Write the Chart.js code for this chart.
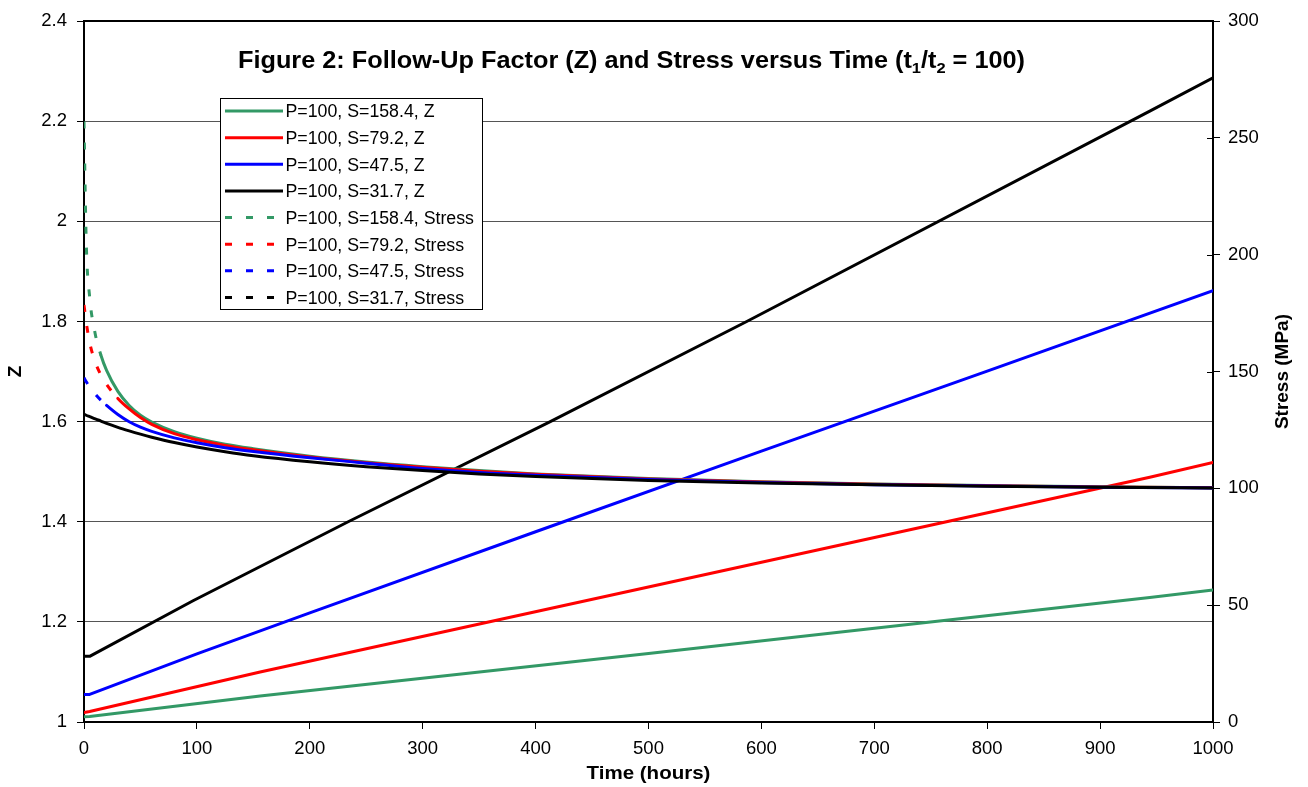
<!DOCTYPE html>
<html><head><meta charset="utf-8">
<script src="https://cdn.jsdelivr.net/npm/chart.js@4.4.1/dist/chart.umd.min.js"></script>
<style>html,body{margin:0;padding:0;background:#fff;overflow:hidden}</style>
</head><body>
<canvas id="c" width="1308" height="787"></canvas>
<script>
// ---- tick labels ----
const timeTicks = [0,100,200,300,400,500,600,700,800,900,1000];
const timeTickLabels = ['0','100','200','300','400','500','600','700','800','900','1000'];
const zTicks = [1,1.2,1.4,1.6,1.8,2,2.2,2.4];
const zTickLabels = ['1','1.2','1.4','1.6','1.8','2','2.2','2.4'];
const stressTicks = [0,50,100,150,200,250,300];
const stressTickLabels = ['0','50','100','150','200','250','300'];

// ---- series labels ----
const seriesLabels = [
  'P=100, S=158.4, Z','P=100, S=79.2, Z','P=100, S=47.5, Z','P=100, S=31.7, Z',
  'P=100, S=158.4, Stress','P=100, S=79.2, Stress','P=100, S=47.5, Stress','P=100, S=31.7, Stress'
];
const seriesColors = ['#339966','#ff0000','#0000ff','#000000','#339966','#ff0000','#0000ff','#000000'];

// ---- Z (left axis) ----
const tZGreen = [0,5,156,500,944,1000];
const zGreen  = [1.0107,1.011,1.052,1.137,1.2487,1.2636];
const tZRed   = [0,5,156,944,1000];
const zRed    = [1.0187,1.021,1.100,1.489,1.5185];
const tZBlue  = [0,5,100,200,400,600,800,1000];
const zBlue   = [1.055,1.055,1.136,1.218,1.380,1.541,1.701,1.8616];
const tZBlack = [0,5,97,234,413,587,944,1000];
const zBlack  = [1.1311,1.1311,1.2426,1.4,1.6,1.8,2.2203,2.2867];

// ---- Stress (right axis, MPa) ----
const tStress = [0,2,5,10,15,20,30,40,50,60,80,100,125,150,200,250,300,350,400,500,600,700,800,900,1000];
const sGreen  = [257,205,182,166,157,150.5,141.5,135.5,131.3,128.4,124.3,121.5,118.9,117,113.8,111.3,109.3,107.6,106.2,104.2,102.8,101.9,101.2,100.7,100.3];
const sRed    = [178.5,171,162.5,154,148.5,144.5,138.5,134,130.3,127.4,123.4,120.8,118.4,116.5,113.4,111,109,107.3,106,104,102.7,101.8,101.1,100.6,100.3];
const sBlue   = [147.3,145.6,143.4,140.3,137.7,135.5,131.6,128.5,126.2,124.4,121.6,119.5,117.4,115.8,113.1,110.8,108.5,106.8,105.6,103.8,102.5,101.6,101.0,100.5,100.2];
const sBlack  = [131.8,131.3,130.7,129.7,128.8,127.8,126.1,124.6,123.2,121.9,119.6,117.7,115.7,114.0,111.4,109.3,107.6,106.2,105.1,103.4,102.3,101.5,100.9,100.5,100.2];
// hours over which each stress curve still shows visible dashes
const dashUntil = [15, 30, 25, 0];

const seriesT = [tZGreen,tZRed,tZBlue,tZBlack,tStress,tStress,tStress,tStress];
const seriesV = [zGreen,zRed,zBlue,zBlack,sGreen,sRed,sBlue,sBlack];

const DASH = [7,14];
const FONT = '"Liberation Sans", Arial, sans-serif';

const datasets = seriesLabels.map((lab,i)=>{
  const isStress = i >= 4;
  const ds = {
    label: lab,
    data: seriesT[i].map((t,k)=>({x:t, y:seriesV[i][k]})),
    yAxisID: isStress ? 'y2' : 'y',
    borderColor: seriesColors[i],
    backgroundColor: seriesColors[i],
    borderWidth: 3,
    pointRadius: 0,
    fill: false,
    order: 8 - i,
    legendDash: isStress ? DASH : [],
    borderCapStyle: 'round',
    borderJoinStyle: 'round'
  };
  if (isStress) {
    const lim = dashUntil[i-4];
    const dashed = c => tStress[c.p1DataIndex] <= lim;
    ds.cubicInterpolationMode = 'monotone';
    ds.segment = {
      borderDash: c => dashed(c) ? DASH : [],
      borderCapStyle: c => dashed(c) ? 'butt' : 'round'
    };
  }
  return ds;
});

function drawStretched(ctx, text, x, y, font, sx, align){
  ctx.save();
  ctx.font = font;
  const w = ctx.measureText(text).width * sx;
  let x0 = x;
  if (align === 'center') x0 = x - w/2;
  else if (align === 'right') x0 = x - w;
  ctx.translate(x0, y);
  ctx.scale(sx, 1);
  ctx.textAlign = 'left';
  ctx.fillText(text, 0, 0);
  ctx.restore();
}

const decor = {
  id: 'decor',
  afterDraw(chart){
    const ctx = chart.ctx, a = chart.chartArea;
    ctx.save();
    ctx.strokeStyle = '#000'; ctx.lineWidth = 2;
    ctx.beginPath(); ctx.moveTo(a.left, a.top); ctx.lineTo(a.right, a.top); ctx.stroke();
    const y2 = chart.scales.y2;
    ctx.lineWidth = 1;
    stressTicks.forEach(v=>{
      const py = Math.round(y2.getPixelForValue(v)) + 0.5;
      ctx.beginPath(); ctx.moveTo(a.right - 6, py); ctx.lineTo(a.right, py); ctx.stroke();
    });
    ctx.restore();

    // ---- legend ----
    ctx.save();
    const lx = 220.5, ly = 98.5, lw = 262, lh = 211;
    ctx.fillStyle = '#fff'; ctx.fillRect(lx, ly, lw, lh);
    ctx.strokeStyle = '#000'; ctx.lineWidth = 1; ctx.strokeRect(lx, ly, lw, lh);
    const lfont = '17.5px ' + FONT;
    ctx.font = lfont;
    const sx = 149 / ctx.measureText(seriesLabels[0]).width;
    chart.data.datasets.forEach((ds,i)=>{
      const cy = 111 + i*26.64;
      ctx.save();
      ctx.strokeStyle = ds.borderColor; ctx.lineWidth = 3;
      ctx.setLineDash(ds.legendDash); ctx.lineCap = 'butt';
      ctx.beginPath(); ctx.moveTo(225, cy); ctx.lineTo(283, cy); ctx.stroke();
      ctx.restore();
      ctx.fillStyle = '#000';
      drawStretched(ctx, ds.label, 285.5, cy + 6.3, lfont, sx, 'left');
    });
    ctx.restore();

    // ---- title with subscripts ----
    ctx.save();
    ctx.fillStyle = '#000';
    const tf = 'bold 23px ' + FONT, sf = 'bold 15px ' + FONT;
    const parts = [
      ['Figure 2: Follow-Up Factor (Z) and Stress versus Time (t', tf, 0],
      ['1', sf, 5], ['/t', tf, 0], ['2', sf, 5], [' = 100)', tf, 0]
    ];
    let tot = 0;
    parts.forEach(p=>{ ctx.font = p[1]; p.push(ctx.measureText(p[0]).width); tot += p[3]; });
    const tsx = 787 / tot;
    ctx.translate(238, 68); ctx.scale(tsx, 1);
    let cx = 0;
    parts.forEach(p=>{ ctx.font = p[1]; ctx.fillText(p[0], cx, p[2]); cx += p[3]; });
    ctx.restore();

    // ---- axis titles ----
    ctx.save();
    ctx.fillStyle = '#000';
    drawStretched(ctx, 'Time (hours)', (a.left + a.right)/2, 779, 'bold 19px ' + FONT, 1.08, 'center');
    ctx.save(); ctx.translate(21, (a.top + a.bottom)/2); ctx.rotate(-Math.PI/2);
    ctx.font = 'bold 19px ' + FONT; ctx.textAlign = 'center'; ctx.fillText('Z', 0, 0); ctx.restore();
    ctx.save(); ctx.translate(1288, (a.top + a.bottom)/2); ctx.rotate(-Math.PI/2);
    ctx.font = 'bold 19px ' + FONT; ctx.textAlign = 'center'; ctx.fillText('Stress (MPa)', 0, 0); ctx.restore();
    ctx.restore();
  }
};

const tickFont = {family: FONT, size: 18.5};
new Chart(document.getElementById('c'), {
  type: 'line',
  data: { datasets },
  options: {
    responsive: false,
    animation: false,
    devicePixelRatio: 1,
    events: [],
    layout: { padding: { top: 18, left: 0, right: 0, bottom: 0 } },
    plugins: { legend: { display: false }, tooltip: { enabled: false }, title: { display: false } },
    scales: {
      x: {
        type: 'linear', min: 0, max: 1000,
        afterBuildTicks: s => { s.ticks = timeTicks.map(v=>({value:v})); },
        afterFit: s => { s.height = 65; },
        ticks: { font: tickFont, color: '#000', padding: 9, maxRotation: 0, autoSkip: false,
                 callback: (v,i) => timeTickLabels[i] },
        grid: { drawOnChartArea: false, drawTicks: true, tickLength: 7, tickColor: '#000', tickWidth: 1 },
        border: { display: true, color: '#000', width: 2 }
      },
      y: {
        type: 'linear', position: 'left', min: 1, max: 2.4,
        afterBuildTicks: s => { s.ticks = zTicks.map(v=>({value:v})); },
        afterFit: s => { s.width = 84; },
        ticks: { font: tickFont, color: '#000', padding: 10, autoSkip: false,
                 callback: (v,i) => zTickLabels[i] },
        grid: { color: '#555', lineWidth: 1, drawTicks: true, tickLength: 7, tickColor: '#000' },
        border: { display: true, color: '#000', width: 2 }
      },
      y2: {
        type: 'linear', position: 'right', min: 0, max: 300,
        afterBuildTicks: s => { s.ticks = stressTicks.map(v=>({value:v})); },
        afterFit: s => { s.width = 95; },
        ticks: { font: tickFont, color: '#000', padding: 8, autoSkip: false,
                 callback: (v,i) => stressTickLabels[i] },
        grid: { drawOnChartArea: false, drawTicks: true, tickLength: 7, tickColor: '#000' },
        border: { display: true, color: '#000', width: 2 }
      }
    }
  },
  plugins: [decor]
});
</script>
</body></html>
